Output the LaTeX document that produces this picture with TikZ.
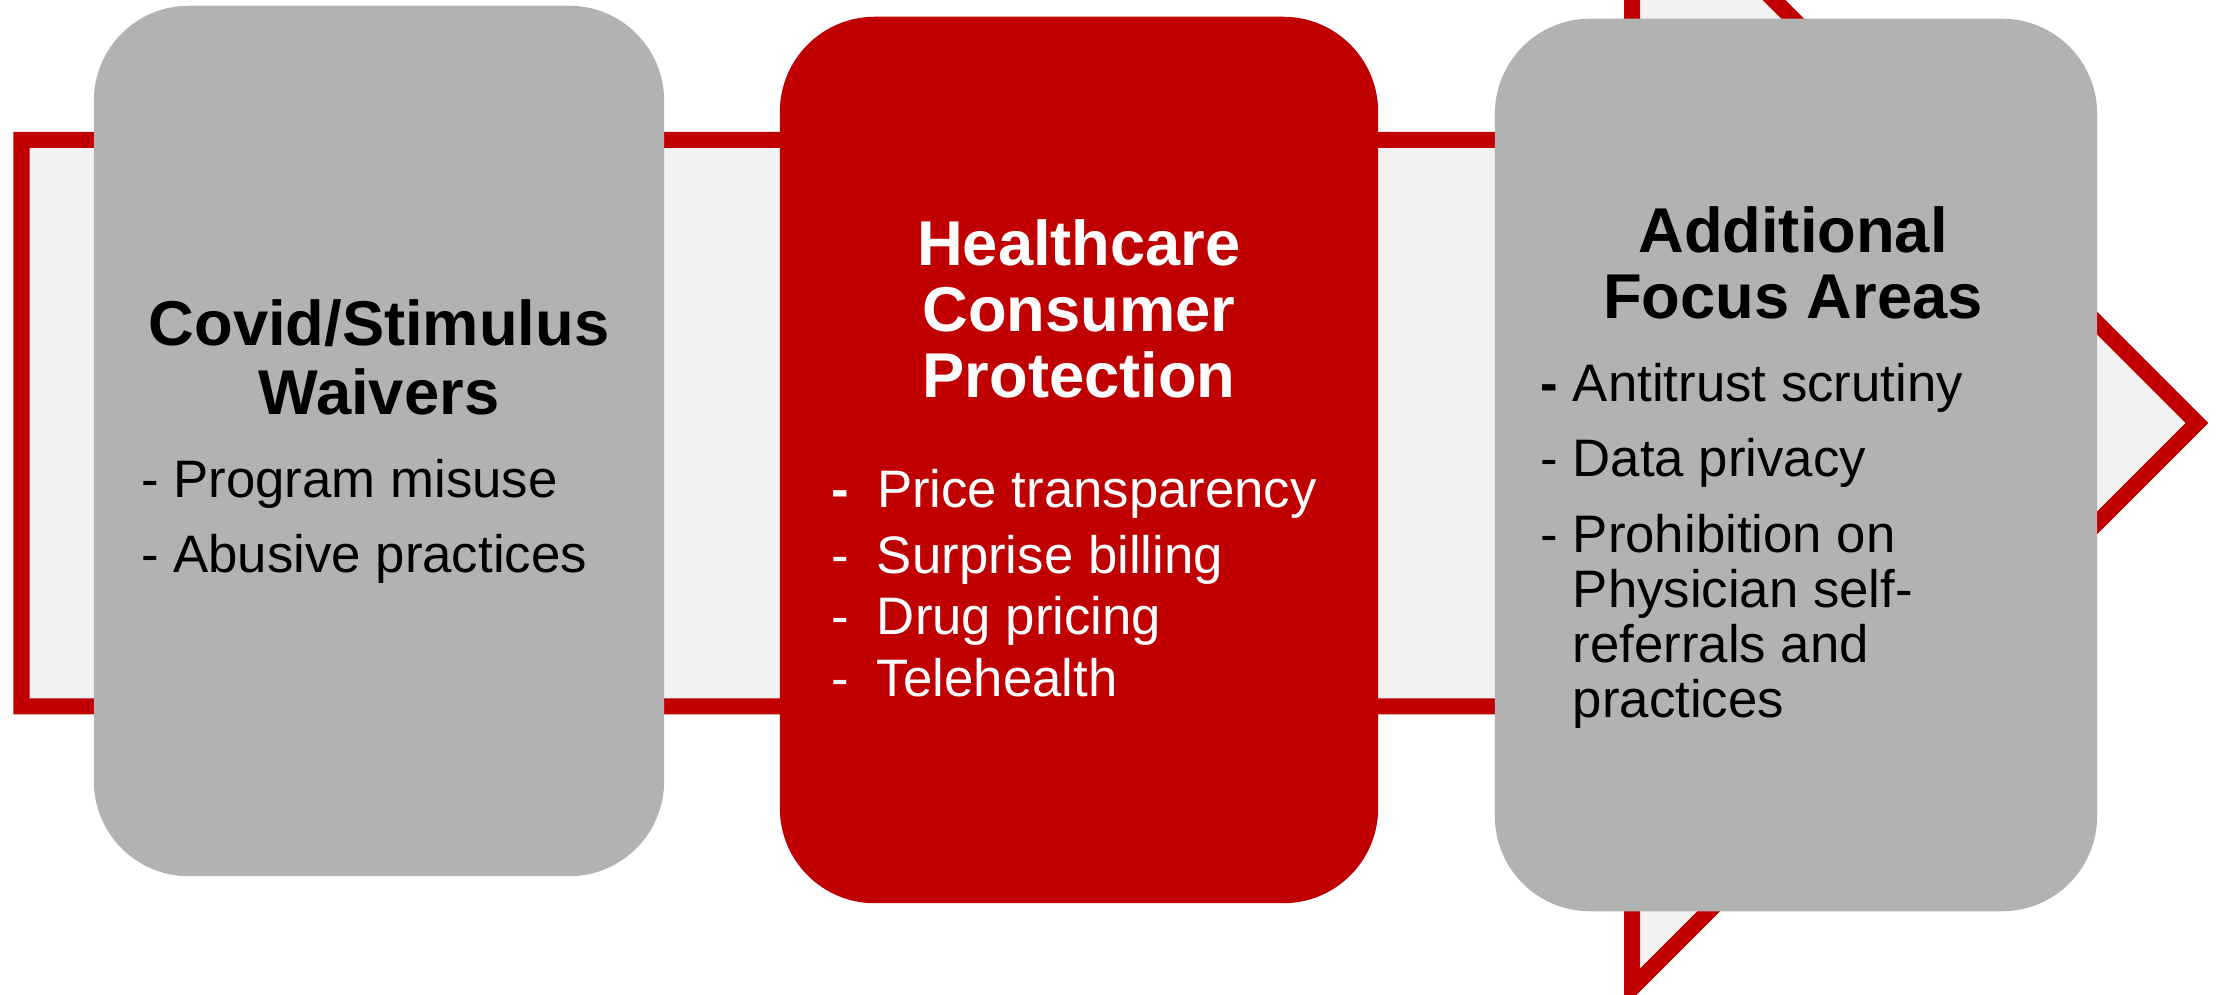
\documentclass[tikz,border=0pt]{standalone}
\usepackage{fontspec}
\setmainfont{Liberation Sans}
\usepackage{xcolor}
\usetikzlibrary{positioning}

\definecolor{deepred}{HTML}{C00000}
\definecolor{cardgrey}{HTML}{B2B2B2}
\definecolor{bandfill}{HTML}{F2F2F2}

\newcommand{\headfont}{\fontsize{18}{18.7}\selectfont\bfseries}
\newcommand{\itemfont}{\fontsize{15}{15.6}\selectfont}

\begin{document}
\begin{tikzpicture}[
    x=0.01cm, y=-0.01cm,
    band/.style={draw=deepred, line width=0.16cm, fill=bandfill, miter limit=10},
    card/.style={rectangle, rounded corners=0.95cm, inner sep=0pt},
    heading/.style={anchor=base, inner sep=0pt, font=\headfont},
    items/.style={anchor=base west, inner sep=0pt, font=\itemfont}
]
    \useasboundingbox (0,0) rectangle (2226,995);
    \clip (0,0) rectangle (2226,995);

    % the big arrow running behind the three cards
    \draw [band] (21.5,140) -- (1632,140) -- (1632,-142) -- (2197,423)
        -- (1632,988) -- (1632,706.5) -- (21.5,706.5) -- cycle;

    % cards
    \node [card, fill=cardgrey, minimum width=5.70cm, minimum height=8.70cm] (covid) at (379,441) {};
    \node [card, fill=deepred, minimum width=5.98cm, minimum height=8.86cm] (consumer) at (1079,460) {};
    \node [card, fill=cardgrey, minimum width=6.02cm, minimum height=8.92cm] (focus) at (1796,465) {};

    % headings
    \node [heading] (covidhead) at (379,346)
        {\begin{tabular}[t]{@{}c@{}}Covid/Stimulus\\[0.9pt] Waivers\end{tabular}};
    \node [heading, text=white] (consumerhead) at (1079,266)
        {\begin{tabular}[t]{@{}c@{}}Healthcare\\ Consumer\\ Protection\end{tabular}};
    \node [heading] (focushead) at (1793,253)
        {\begin{tabular}[t]{@{}c@{}}Additional\\ Focus Areas\end{tabular}};

    % bullet lists
    \node [items] (covidlist) at (140.6,498)
        {\begin{tabular}[t]{@{}l@{\ }l@{}}
            - & Program misuse\\[5.7pt]
            - & Abusive practices
        \end{tabular}};
    \node [items, text=white] (consumerlist) at (830.6,508)
        {\begin{tabular}[t]{@{}l@{\hspace{8pt}}l@{}}
            \textbf{-} & Price transparency\\[2.9pt]
            - & Surprise billing\\[2pt]
            - & Drug pricing\\[2pt]
            - & Telehealth
        \end{tabular}};
    \node [items] (focuslist) at (1540,402)
        {\begin{tabular}[t]{@{}l@{\ }l@{}}
            \textbf{-} & Antitrust scrutiny\\[5.7pt]
            - & Data privacy\\[6pt]
            - & Prohibition on\\
              & Physician self-\\
              & referrals and\\
              & practices
        \end{tabular}};
\end{tikzpicture}
\end{document}
